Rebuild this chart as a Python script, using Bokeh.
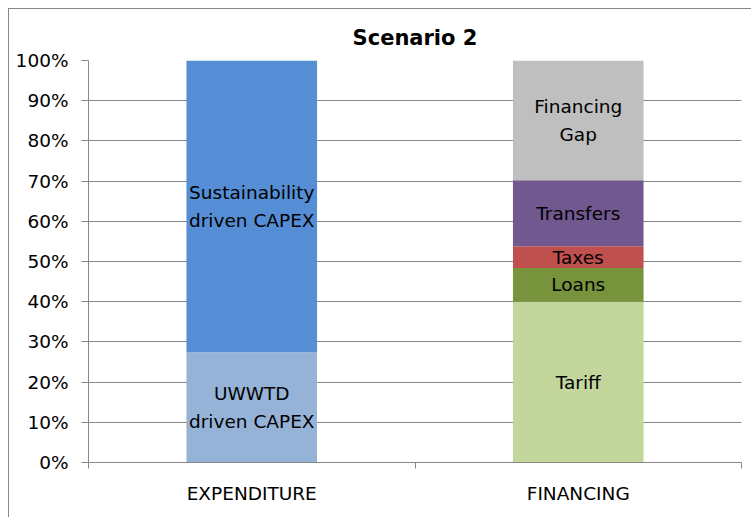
from bokeh.plotting import figure
from bokeh.models import FixedTicker, ColumnDataSource, Range1d
from bokeh.core.properties import value
from bokeh.embed import file_html
from bokeh.resources import INLINE

# ---- data ----
categories = ["EXPENDITURE", "FINANCING"]
segments = ["UWWTD driven CAPEX", "Sustainability driven CAPEX", "Tariff",
            "Loans", "Taxes", "Transfers", "Financing Gap"]
segment_labels = ["UWWTD\ndriven CAPEX", "Sustainability\ndriven CAPEX", "Tariff",
                  "Loans", "Taxes", "Transfers", "Financing\nGap"]
uwwtd = [27.4, 0.0]
sustainability = [72.6, 0.0]
tariff = [0.0, 40.0]
loans = [0.0, 8.4]
taxes = [0.0, 5.4]
transfers = [0.0, 16.4]
financing_gap = [0.0, 29.8]
series = [uwwtd, sustainability, tariff, loans, taxes, transfers, financing_gap]
colors = ["#95B3D7", "#558ED5", "#C3D69B", "#77933C", "#C0504D", "#71588F", "#BFBFBF"]
yticks = [0, 10, 20, 30, 40, 50, 60, 70, 80, 90, 100]
ytick_labels = [f"{t}%" for t in yticks]

FONT = "DejaVu Sans"
GRAY = "#878787"
LABEL_SIZE = "18.5px"

xs = [i + 0.5 for i in range(len(categories))]
data = {"x": xs}
for name, vals in zip(segments, series):
    data[name] = vals
src = ColumnDataSource(data)

p = figure(width=743, height=509, output_backend="svg", toolbar_location=None,
           x_range=Range1d(0, len(categories)), y_range=Range1d(0, 100),
           min_border_left=79, min_border_top=51, min_border_right=11, min_border_bottom=56,
           styles={"margin-left": "8px", "margin-top": "8px",
                   "border-left": f"1px solid {GRAY}", "border-top": f"1px solid {GRAY}"})
p.outline_line_color = None
p.background_fill_color = "white"
p.border_fill_color = "white"

p.title.text = "Scenario 2"
p.title.align = "center"
p.title.text_font = FONT
p.title.text_font_style = "bold"
p.title.text_font_size = "21px"
p.title.text_color = "black"
p.title.standoff = 21

p.vbar_stack(segments, x="x", width=0.4, color=colors, line_color=None, source=src)

# labels centred in segments
lx, ly, lt = [], [], []
for ci, cx in enumerate(xs):
    bottom = 0.0
    for name, lab, vals in zip(segments, segment_labels, series):
        v = vals[ci]
        if v > 0:
            lx.append(cx)
            ly.append(bottom + v / 2)
            lt.append(lab)
        bottom += v
p.text(x=lx, y=ly, text=lt, text_align="center", text_baseline="middle",
       text_font=value(FONT), text_font_size=LABEL_SIZE, text_color="black",
       text_line_height=1.33)

# y axis
p.yaxis.ticker = FixedTicker(ticks=yticks, minor_ticks=[])
p.yaxis.major_label_overrides = {t: l for t, l in zip(yticks, ytick_labels)}
p.yaxis.axis_line_color = GRAY
p.yaxis.major_tick_line_color = GRAY
p.yaxis.major_tick_out = 7
p.yaxis.major_tick_in = 0
p.yaxis.major_label_standoff = 13
p.yaxis.major_label_text_font = FONT
p.yaxis.major_label_text_font_size = LABEL_SIZE
p.yaxis.major_label_text_color = "black"

# x axis
p.xaxis.ticker = FixedTicker(ticks=xs, minor_ticks=[i for i in range(len(categories) + 1)])
p.xaxis.major_label_overrides = {x: c for x, c in zip(xs, categories)}
p.xaxis.axis_line_color = GRAY
p.xaxis.major_tick_line_color = None
p.xaxis.major_tick_out = 0
p.xaxis.major_tick_in = 0
p.xaxis.minor_tick_line_color = GRAY
p.xaxis.minor_tick_out = 6
p.xaxis.minor_tick_in = 0
p.xaxis.major_label_standoff = 14
p.xaxis.major_label_text_font = FONT
p.xaxis.major_label_text_font_size = LABEL_SIZE
p.xaxis.major_label_text_color = "black"

p.xgrid.grid_line_color = None
p.ygrid.grid_line_color = GRAY
p.ygrid.grid_line_width = 1

open("out.html", "w").write(file_html(p, INLINE))
